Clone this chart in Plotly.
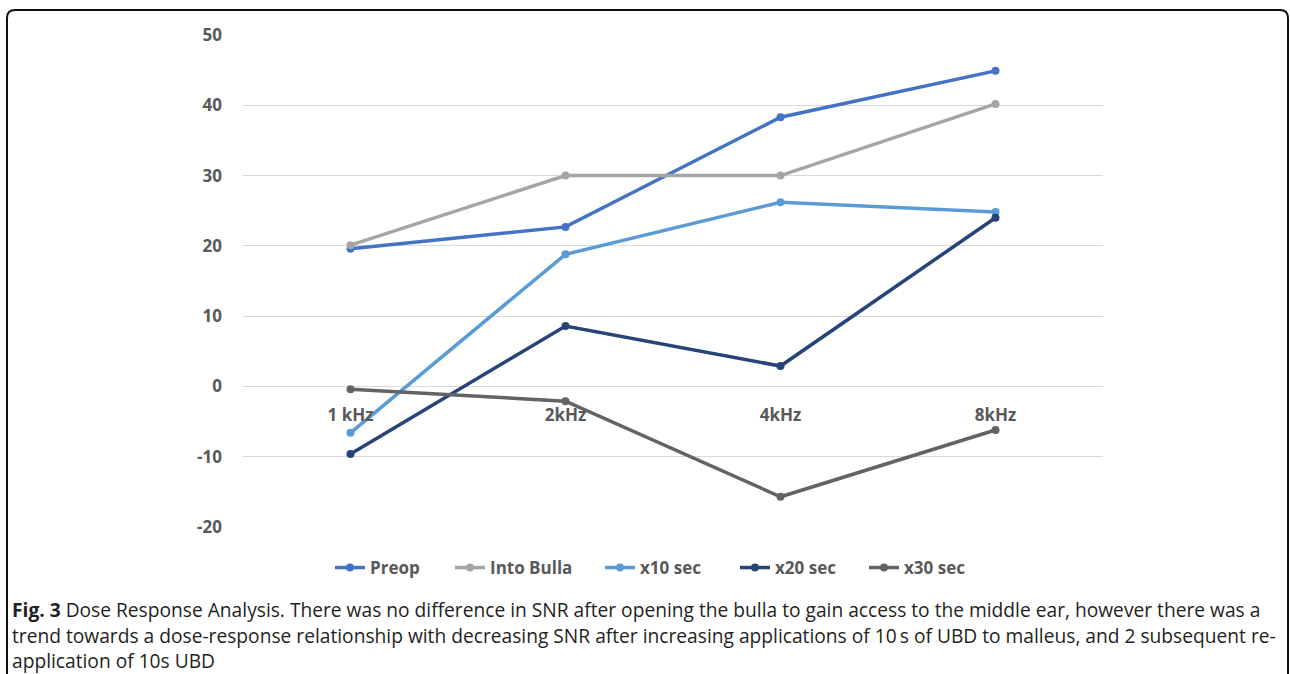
import plotly.graph_objects as go

categories = ["1 kHz", "2kHz", "4kHz", "8kHz"]
preop = [19.6, 22.7, 38.3, 44.9]
into_bulla = [20.1, 30.0, 30.0, 40.2]
x10_sec = [-6.6, 18.8, 26.2, 24.8]
x20_sec = [-9.6, 8.6, 2.9, 24.0]
x30_sec = [-0.4, -2.1, -15.7, -6.2]

y_tickvals = [-20, -10, 0, 10, 20, 30, 40, 50]
y_ticktext = ["-20", "-10", "0", "10", "20", "30", "40", "50"]

series_names = ["Preop", "Into Bulla", "x10 sec", "x20 sec", "x30 sec"]
series_values = [preop, into_bulla, x10_sec, x20_sec, x30_sec]
series_colors = ["#4472C4", "#A5A5A5", "#5B9BD5", "#264478", "#636363"]

caption_lines = [
    "<b>Fig. 3</b> Dose Response Analysis. There was no difference in SNR after opening the bulla to gain access to the middle ear, however there was a",
    "trend towards a dose-response relationship with decreasing SNR after increasing applications of 10\u2009s of UBD to malleus, and 2 subsequent re-",
    "application of 10s UBD",
]

W, H = 1290, 674
L, R, T, B = 243, 1103, 35, 527
ymin, ymax = -20, 50

def px(x):
    return (x - L) / (R - L)

def py(y):
    return (B - y) / (B - T)

font_family = "Open Sans, Liberation Sans, sans-serif"
legend_font = dict(size=17, color="#595959", family=font_family, weight="bold")
legend_x_px = [330, 450, 600, 735, 864]

fig = go.Figure()
layout_legends = {}
for i, (name, vals, color) in enumerate(zip(series_names, series_values, series_colors)):
    key = "legend" if i == 0 else f"legend{i + 1}"
    fig.add_trace(go.Scatter(
        x=categories, y=vals, name=name, mode="lines+markers",
        line=dict(color=color, width=3.5),
        marker=dict(color=color, size=8),
        legend=key,
    ))
    layout_legends[key] = dict(
        orientation="h", x=px(legend_x_px[i]), xanchor="left", y=py(568), yanchor="middle",
        font=legend_font, itemwidth=30, bgcolor="rgba(0,0,0,0)",
    )

fig.update_layout(
    width=W, height=H,
    margin=dict(l=L, r=W - R, t=T, b=H - B),
    paper_bgcolor="white", plot_bgcolor="white",
    font=dict(family=font_family, color="#595959"),
    showlegend=True,
    xaxis=dict(
        type="category", range=[-0.5, 3.5], showgrid=False, zeroline=False,
        showline=False, ticks="", anchor="free",
        position=(0 - ymin) / (ymax - ymin),
        tickfont=dict(size=17, color="#595959", family=font_family, weight="bold"),
        ticklabelstandoff=17,
    ),
    yaxis=dict(
        range=[ymin, ymax], tickmode="array", tickvals=y_tickvals, ticktext=y_ticktext,
        showgrid=True, gridcolor="#D9D9D9",
        gridwidth=1, zeroline=False, showline=False, ticks="",
        tickfont=dict(size=17, color="#595959", family=font_family, weight="bold"),
        ticklabelstandoff=20,
    ),
    **layout_legends,
)

caption_y = [609, 635, 660.5]
for line, yy in zip(caption_lines, caption_y):
    fig.add_annotation(
        text=line, xref="paper", yref="paper", x=px(10), y=py(yy),
        xanchor="left", yanchor="middle", showarrow=False, align="left",
        font=dict(size=19.2, color="#231F20", family=font_family),
    )

r = 8
path = (f"M {px(7)},{py(700)} L {px(7)},{py(10 + r)} "
        f"Q {px(7)},{py(10)} {px(7 + r)},{py(10)} "
        f"L {px(1288 - r)},{py(10)} Q {px(1288)},{py(10)} {px(1288)},{py(10 + r)} "
        f"L {px(1288)},{py(700)}")
fig.add_shape(type="path", path=path, xref="paper", yref="paper",
              line=dict(color="#111111", width=2))

fig.write_html(
    "out.html",
    config={"displayModeBar": False},
    post_script="document.body.style.margin='0';document.body.style.overflow='hidden';",
)
